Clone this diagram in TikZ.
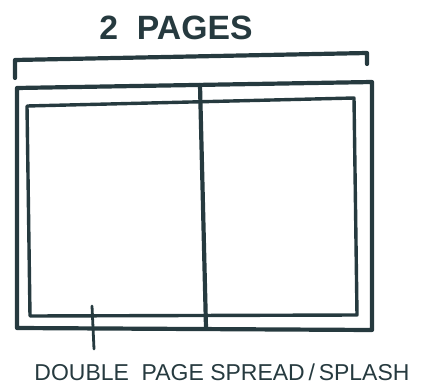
\documentclass[tikz,border=0pt]{standalone}
\usepackage{fontspec}
\setmainfont{Liberation Sans}
\definecolor{ink}{HTML}{263A3F}
\begin{document}
\begin{tikzpicture}[x=1pt,y=-1pt,
  pen/.style={draw=ink,line width=4.2pt,line cap=round,line join=round},
  thinpen/.style={draw=ink,line width=3.4pt,line cap=round,line join=round},
  lbl/.style={text=ink,inner sep=0pt,anchor=center}]
\useasboundingbox (0,0) rectangle (425,385);
% bracket
\coordinate (bl) at (15,78);
\coordinate (blt) at (15,60);
\coordinate (brt) at (367,53);
\coordinate (br) at (367,64);
\draw[pen] (bl) -- (blt) -- (brt) -- (br);
% outer rectangle
\coordinate (o1) at (17,88);
\coordinate (o2) at (372,82);
\coordinate (o3) at (372,330);
\coordinate (o4) at (17,328);
\draw[pen] (o1) -- (o2) -- (o3) -- (o4) -- cycle;
% inner rectangle
\coordinate (i1) at (27,106);
\coordinate (i2) at (354,98);
\coordinate (i3) at (357,315);
\coordinate (i4) at (30,316);
\draw[thinpen] (i1) -- (i2) -- (i3) -- (i4) -- cycle;
% fold
\coordinate (ft) at (200,85);
\coordinate (fb) at (206,328);
\draw[pen] (ft) -- (fb);
% labels
\node[lbl] (title) at (176,28) {\resizebox{153pt}{!}{\fontsize{40}{40}\selectfont\bfseries 2\ \ PAGES}};
\node[lbl] (caption) at (222,372) {\resizebox{375pt}{!}{\fontsize{24}{24}\selectfont DOUBLE\ \ PAGE SPREAD\,/\,SPLASH}};
% pointer
\coordinate (tt) at (92,306);
\coordinate (tb) at (94,349);
\draw[thinpen,line width=2.8pt] (tt) -- (tb);
\end{tikzpicture}
\end{document}
